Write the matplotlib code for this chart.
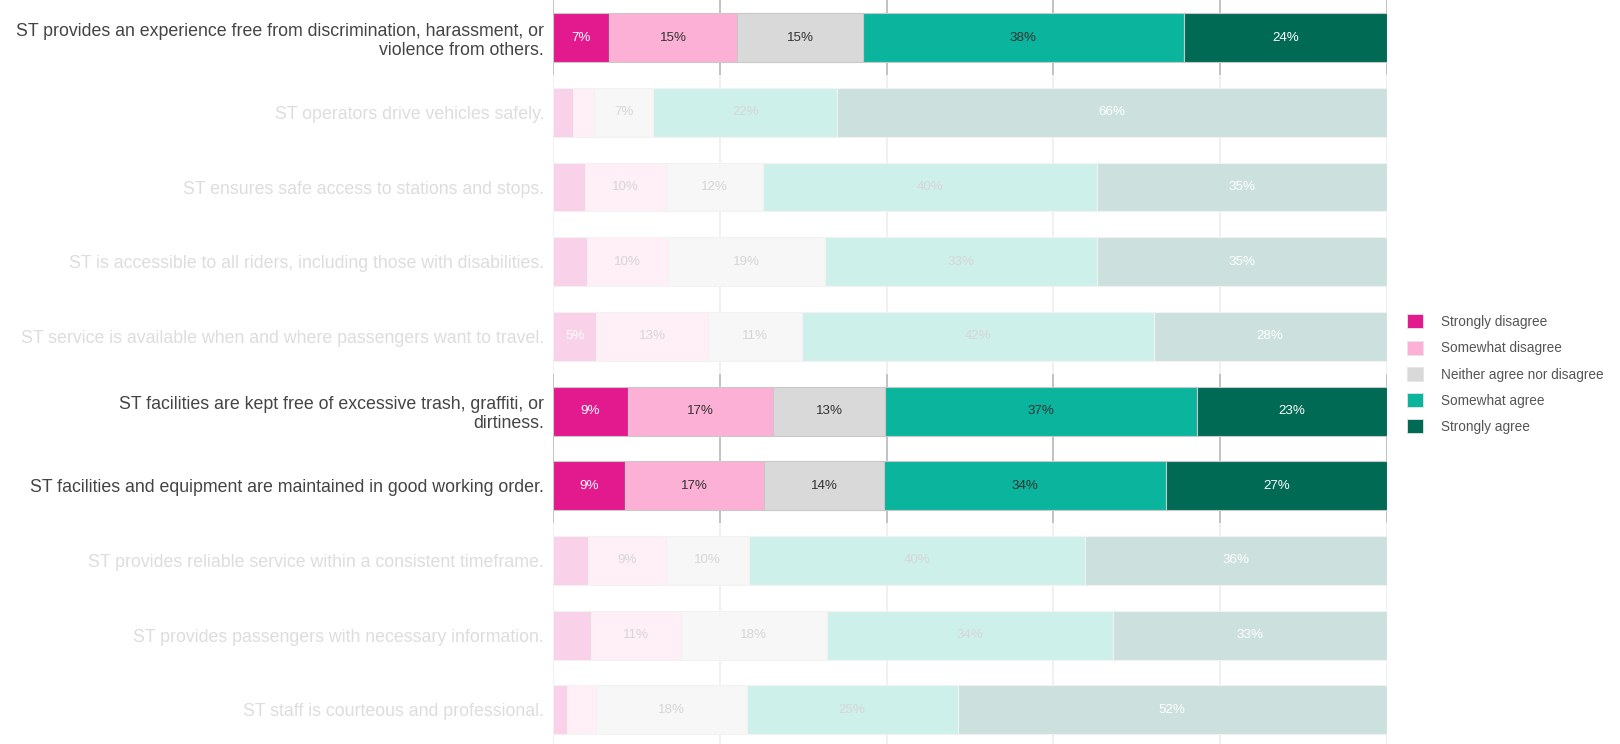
import matplotlib.pyplot as plt
import matplotlib
from matplotlib.colors import to_rgb
from matplotlib.patches import Patch
import numpy as np

matplotlib.rcParams.update({
    'font.family': ['Liberation Sans', 'DejaVu Sans'],
    'font.size': 9,
})

statements = [
    'ST provides an experience free from discrimination, harassment, or\nviolence from others.',
    'ST operators drive vehicles safely.',
    'ST ensures safe access to stations and stops.',
    'ST is accessible to all riders, including those with disabilities.',
    'ST service is available when and where passengers want to travel.',
    'ST facilities are kept free of excessive trash, graffiti, or\ndirtiness.',
    'ST facilities and equipment are maintained in good working order.',
    'ST provides reliable service within a consistent timeframe.',
    'ST provides passengers with necessary information.',
    'ST staff is courteous and professional.',
]
highlighted = [True, False, False, False, False, True, True, False, False, False]

responses = ['Strongly disagree', 'Somewhat disagree', 'Neither agree nor disagree',
             'Somewhat agree', 'Strongly agree']

# percent of respondents per statement
strongly_disagree = [6.7, 2.4, 3.8, 4.1, 5.2, 9.0, 8.6, 4.2, 4.6, 1.7]
somewhat_disagree = [15.4, 2.5, 9.8, 9.7, 13.4, 17.4, 16.7, 9.4, 10.7, 3.4]
neither = [15.1, 7.1, 11.6, 18.8, 11.3, 13.4, 14.4, 9.9, 17.5, 18.1]
somewhat_agree = [38.4, 22.1, 40.0, 32.6, 42.1, 37.4, 33.8, 40.3, 34.4, 25.3]
strongly_agree = [24.4, 65.9, 34.8, 34.8, 28.0, 22.8, 26.5, 36.2, 32.8, 51.5]

series = [strongly_disagree, somewhat_disagree, neither, somewhat_agree, strongly_agree]
colors = ['#e3198e', '#fdb0d5', '#d9d9d9', '#0bb59d', '#006a54']
text_colors = ['white', '#333333', '#333333', '#333333', 'white']
faded_text = ['white', '#d6d6d6', '#d6d6d6', '#d6d6d6', 'white']


def washed(c, a=0.2):
    # solid colour equal to c at opacity a over white
    r = np.array(to_rgb(c))
    return tuple(r * a + (1 - a))


fig = plt.figure(figsize=(16.2, 7.44), dpi=100)
ax = fig.add_axes([0.3414, 0.0, 0.5148, 1.0])

y = np.arange(len(statements))

# per-row gridline segments, faded along with their row
for i, hl in enumerate(highlighted):
    gc = '#bdbdbd' if hl else washed('#bdbdbd', 0.25)
    ax.vlines(np.arange(0, 101, 20), i - 0.5, i + 0.5, color=gc,
              linewidth=1.3, zorder=0)

left = np.zeros(len(statements))
for k, vals in enumerate(series):
    vals = np.array(vals)
    for i, hl in enumerate(highlighted):
        fc = colors[k] if hl else washed(colors[k])
        ax.barh(y[i], vals[i], left=left[i], height=0.655, color=fc,
                edgecolor='#c8c8c8' if hl else '#f2f2f2', linewidth=0.8, zorder=2)
        if vals[i] >= 5:
            tc = text_colors[k] if hl else faded_text[k]
            ax.text(left[i] + vals[i] / 2, y[i], f'{int(vals[i] + 0.5)}%', ha='center',
                    va='center', fontsize=9.6, color=tc, zorder=3)
    left += vals

ax.set_xlim(0, 100)
ax.set_ylim(9.459, -0.505)
ax.set_yticks(y)
ax.set_yticklabels(statements, fontsize=12.8, ha='right', multialignment='right',
                   linespacing=1.17)
for lbl, hl in zip(ax.get_yticklabels(), highlighted):
    lbl.set_color('#444444' if hl else '#dddddd')
ax.tick_params(axis='y', length=0, pad=6.5)
ax.tick_params(axis='x', length=0, labelbottom=False)
for s in ax.spines.values():
    s.set_visible(False)

handles = [Patch(facecolor=c, edgecolor='#e6e6e6', linewidth=0.6) for c in colors]
fig.legend(handles, responses, loc='center left', bbox_to_anchor=(0.8685, 0.497),
           frameon=False, fontsize=9.8, handlelength=1.2, handleheight=1.2,
           handletextpad=1.3, labelspacing=0.86, borderpad=0, borderaxespad=0,
           labelcolor='#555555')

fig.savefig('out.png', dpi=100)
plt.close(fig)
